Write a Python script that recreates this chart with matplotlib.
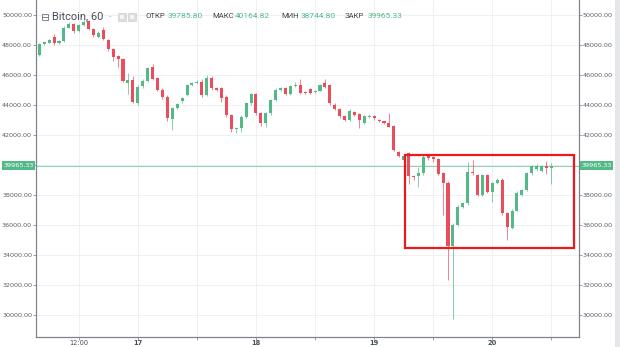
import matplotlib
matplotlib.use("Agg")
import matplotlib.pyplot as plt
from matplotlib.patches import Rectangle
from matplotlib.transforms import blended_transform_factory
import numpy as np

# ---------------- data ----------------
opens = [47350, 48090, 48160, 48530, 48130, 48270, 49160, 49420, 48930, 49310,
         49580, 49050, 48540, 48980, 48310, 47760, 47250, 47090, 45490, 45650,
         44150, 45290, 45600, 46560, 45780, 45000, 44560, 43070, 43780, 44290,
         44670, 45330, 45440, 45510, 44670, 45820, 45110, 45110, 44560, 43330,
         42380, 42440, 43220, 44110, 44730, 43440, 42780, 43440, 44330, 45000,
         45110, 44730, 45270, 45330, 44890, 45040, 44840, 44960, 45440, 45330,
         44000, 43700, 43270, 43000, 43560, 43380, 42820, 43220, 43250, 43000,
         42900, 42820, 42580, 40890, 40330, 40780, 39270, 39270, 39440, 40600,
         40550, 40380, 39440, 38780, 34600, 36000, 37220, 37450, 39560, 39330,
         38000, 39330, 38220, 38780, 39000, 36780, 35780, 36960, 38000, 38330,
         39440, 39700, 39630, 39930, 39785.80]
closes = [48050, 48200, 48310, 48160, 48270, 49160, 49380, 48930, 49310, 49530,
          49050, 48650, 48820, 48380, 47760, 47200, 47090, 45580, 45650, 44180,
          45220, 45600, 46440, 45730, 45000, 44560, 43110, 43780, 44040, 44440,
          45330, 45440, 45510, 44670, 45820, 45110, 45000, 44440, 43330, 42380,
          42440, 43220, 44110, 44730, 43440, 42780, 43440, 44330, 45000, 45110,
          44730, 45270, 45330, 44780, 44780, 44820, 44960, 45330, 45220, 44110,
          43760, 43250, 43030, 43600, 43330, 43000, 43250, 43290, 43100, 42900,
          42780, 42560, 40980, 40600, 40600, 39250, 39180, 39440, 40560, 40450,
          40380, 39400, 38780, 34600, 36000, 37220, 37450, 39550, 39440, 38000,
          39330, 38220, 38780, 39000, 36780, 35840, 36960, 38160, 38330, 39440,
          39930, 39930, 39930, 39780, 39965.33]
highs = [48120, 48260, 48400, 48760, 48330, 49270, 49530, 49480, 49380, 49690,
         49690, 49100, 48900, 49200, 48380, 47820, 47300, 47150, 46160, 45900,
         45300, 45700, 46550, 46700, 45850, 45100, 44650, 43850, 44150, 44500,
         45400, 45550, 45650, 45700, 46000, 45900, 45200, 45200, 44650, 43400,
         42550, 43300, 44200, 44800, 44800, 43500, 43500, 44400, 45100, 45200,
         45200, 45350, 45560, 45710, 44950, 45100, 45000, 45400, 45700, 45400,
         44100, 43780, 43330, 43700, 43620, 43450, 43350, 43400, 43320, 43050,
         42950, 43470, 42650, 40950, 40700, 40850, 39350, 39890, 40700, 40700,
         40620, 40450, 39500, 38900, 36100, 37300, 37550, 40200, 40330, 39400,
         39400, 39400, 38850, 39100, 39100, 36850, 37050, 38250, 38400, 39500,
         40000, 40050, 40000, 40250, 40164.82]
lows = [47250, 48000, 48100, 47980, 48080, 48200, 49100, 48820, 48880, 49250,
        48980, 48560, 48450, 48300, 47600, 46910, 46530, 45500, 44760, 44100,
        44000, 45150, 45550, 45650, 44900, 44400, 42900, 42330, 43700, 44100,
        44600, 45250, 45400, 44550, 44600, 45000, 44900, 44200, 43200, 42200,
        42110, 42220, 43150, 44000, 43300, 42600, 42560, 43350, 44250, 44900,
        44650, 44650, 45200, 44700, 44700, 44750, 44780, 44900, 45150, 44000,
        43650, 43100, 42900, 42950, 43250, 42450, 42750, 43150, 43000, 42850,
        42700, 42500, 40900, 40500, 40250, 38700, 39000, 38560, 39350, 40300,
        40200, 39300, 36670, 32330, 29700, 35900, 37100, 37350, 39300, 37900,
        37900, 38100, 37560, 38700, 36650, 35000, 35700, 36900, 37900, 38250,
        39350, 39600, 39550, 39400, 38744.80]

day_tick_pos = [8, 20, 32, 44, 56, 68, 80, 92, 104]
day_tick_labels = ["12:00", "17", "", "18", "", "19", "", "20", ""]
y_ticks = [30000, 32000, 34000, 36000, 38000, 40000, 42000, 44000, 46000, 48000, 50000]
y_labels = ["30000.00", "32000.00", "34000.00", "36000.00", "38000.00", "",
            "42000.00", "44000.00", "46000.00", "48000.00", "50000.00"]
last_price = 39965.33
box_x = (74.25, 108.6)
box_y = (34467, 40667)

# ---------------- figure ----------------
W, H = 620, 347
fig = plt.figure(figsize=(W / 100, H / 100), dpi=100)
fig.patch.set_facecolor("white")
ax = fig.add_axes([36 / W, 1 - 337 / H, (579 - 36) / W, 337 / H])

GREEN = "#53b987"
RED = "#eb4d5c"

o = np.array(opens); c = np.array(closes); h = np.array(highs); l = np.array(lows)
x = np.arange(len(o))
up = c >= o
cols = np.where(up, GREEN, RED)

ax.vlines(x, l, h, colors=cols, lw=0.7, alpha=0.7, zorder=3)
body_bottom = np.minimum(o, c)
body_h = np.maximum(np.abs(c - o), 45)
ax.bar(x, body_h, bottom=body_bottom, width=0.62, color=cols, edgecolor="none", zorder=4)

ax.set_xlim(-0.67, 109.6)
ax.set_ylim(28533, 51000)

ax.set_yticks(y_ticks)
ax.set_yticklabels(y_labels)
ax.set_xticks(day_tick_pos)
ax.set_xticklabels(day_tick_labels)
for lab in ax.get_xticklabels():
    if lab.get_text() != "12:00":
        lab.set_fontweight("bold")

ax.grid(True, color="#eef0f4", lw=0.7, zorder=0)
ax.set_axisbelow(True)

for s in ["left", "bottom", "right"]:
    ax.spines[s].set_color("#7f838c")
    ax.spines[s].set_linewidth(0.9)
ax.spines["top"].set_visible(False)

ax.tick_params(axis="y", left=True, right=True, labelleft=True, labelright=True,
               length=2, width=0.6, color="#8a8e96", labelsize=4.6,
               labelcolor="#5a5e66", pad=0.8)
ax.tick_params(axis="x", length=2, width=0.6, color="#8a8e96", labelsize=4.8,
               labelcolor="#4a4e56", pad=0.3)

# last price line and labels
ax.axhline(last_price, color="#93d3b3", lw=0.8, zorder=2)
bt = blended_transform_factory(ax.transAxes, ax.transData)
ax.text(-0.004, last_price, f"{last_price:.2f}", transform=bt, ha="right", va="center",
        color="white", fontsize=4.6, zorder=6, clip_on=False,
        bbox=dict(boxstyle="square,pad=0.25", fc=GREEN, ec="none"))
ax.text(1.004, last_price, f"{last_price:.2f}", transform=bt, ha="left", va="center",
        color="white", fontsize=4.6, zorder=6, clip_on=False,
        bbox=dict(boxstyle="square,pad=0.25", fc=GREEN, ec="none"))

# red highlight box
ax.add_patch(Rectangle((box_x[0], box_y[0]), box_x[1] - box_x[0], box_y[1] - box_y[0],
                       fill=False, ec="#f0161c", lw=1.6, zorder=7, clip_on=False))

# ---------------- header ----------------
def fx(px):
    return px / W

def fy(py):
    return 1 - py / H

# collapse icon
fig.add_artist(Rectangle((fx(42), fy(20)), 5.5 / W, 6.5 / H, transform=fig.transFigure,
                         fill=False, ec="#6f737b", lw=0.6))
fig.add_artist(plt.Line2D([fx(42), fx(47.5)], [fy(16.8), fy(16.8)], transform=fig.transFigure,
                          color="#6f737b", lw=0.6))
fig.text(fx(52), fy(16.5), "Bitcoin, 60", fontsize=7.9, color="#4b4f57", va="center",
         ha="left", family="Roboto")
fig.text(fx(108.5), fy(16.0), "-", fontsize=5, color="#9a9ea6", va="center", ha="left")
for bx in (118, 128):
    fig.add_artist(Rectangle((fx(bx), fy(20.5)), 8 / W, 8 / H, transform=fig.transFigure,
                             fc="#dcdde0", ec="#c8c9cc", lw=0.4))
    fig.add_artist(Rectangle((fx(bx + 2), fy(18.5)), 4 / W, 4 / H, transform=fig.transFigure,
                             fc="#f4f4f5", ec="none"))

hdr = [("ОТКР", 145, "39785.80", 168), ("МАКС", 212, "40164.82", 235),
       ("МИН", 281, "38744.80", 301), ("ЗАКР", 345, "39965.33", 368)]
for lab, lx, val, vx in hdr:
    fig.text(fx(lx), fy(16.5), lab, fontsize=5.6, color="#3f434b", va="center", ha="left",
             family="Roboto")
    fig.text(fx(vx), fy(16.5), val, fontsize=6.0, color=GREEN, va="center", ha="left",
             family="Roboto")

# right scrollbar strip
fig.add_artist(Rectangle((fx(615), 0), 5 / W, 1, transform=fig.transFigure,
                         fc="#e6e7e9", ec="none"))

fig.savefig("out.png", dpi=100, facecolor="white")
